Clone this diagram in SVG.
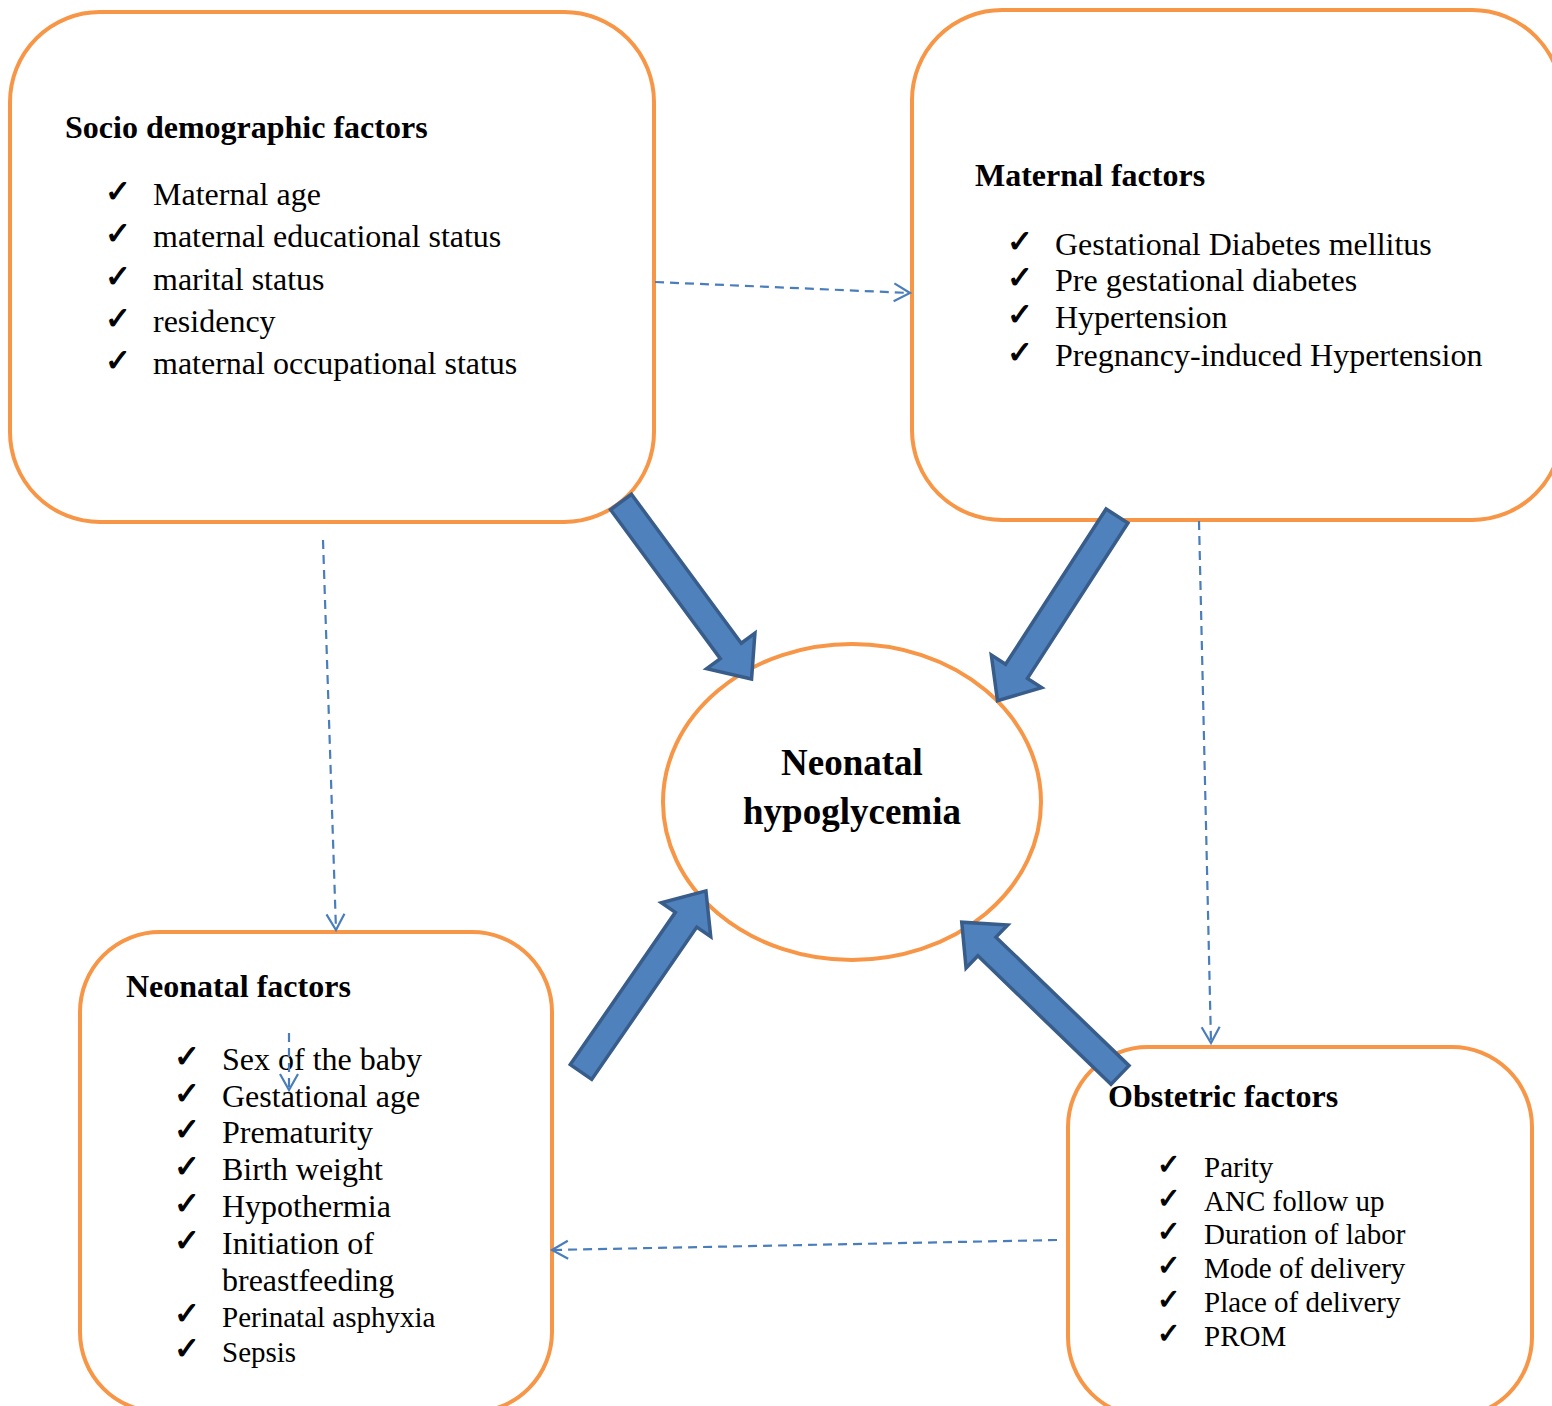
<svg xmlns="http://www.w3.org/2000/svg" width="1552" height="1406" viewBox="0 0 1552 1406">
<defs>
<style>
.box{fill:#fff;stroke:#F79646;stroke-width:4}
.t{font-family:"Liberation Serif","Times New Roman",serif;font-size:32px;fill:#000}
.b{font-weight:bold}
.s{font-size:29px}
.h{font-size:37px}
.ck{font-family:"DejaVu Sans",sans-serif;font-size:31px;fill:#000;stroke:#000;stroke-width:1}
.cs{font-size:28px}
.dash{fill:none;stroke:#4A7EBB;stroke-width:2.2;stroke-dasharray:9,6}
.big{fill:#4F81BD;stroke:#385D8A;stroke-width:3.5;stroke-linejoin:miter}
</style>
<marker id="v" markerUnits="userSpaceOnUse" markerWidth="24" markerHeight="24" viewBox="0 0 24 24" refX="20" refY="12" orient="auto">
<path d="M4,3 L20,12 L4,21" fill="none" stroke="#4A7EBB" stroke-width="2.2"/>
</marker>
<path id="ba" d="M0,-13 L185,-13 L185,-30 L220,0 L185,30 L185,13 L0,13 Z"/>
</defs>
<rect width="1552" height="1406" fill="#fff"/>
<g id="socio">
<rect class="box" x="10" y="12" width="644" height="510" rx="90"/>
<text class="t b" x="65" y="138">Socio demographic factors</text>
<g class="ck"><text x="105" y="202">✓</text><text x="105" y="244">✓</text><text x="105" y="287">✓</text><text x="105" y="329">✓</text><text x="105" y="371">✓</text></g>
<text class="t" x="153" y="205">Maternal age</text>
<text class="t" x="153" y="247">maternal educational status</text>
<text class="t" x="153" y="290">marital status</text>
<text class="t" x="153" y="332">residency</text>
<text class="t" x="153" y="374">maternal occupational status</text>
</g>
<g id="maternal">
<rect class="box" x="912" y="10" width="650" height="510" rx="90"/>
<text class="t b" x="975" y="186">Maternal factors</text>
<g class="ck"><text x="1007" y="252">✓</text><text x="1007" y="288">✓</text><text x="1007" y="325">✓</text><text x="1007" y="363">✓</text></g>
<text class="t" x="1055" y="255">Gestational Diabetes mellitus</text>
<text class="t" x="1055" y="291">Pre gestational diabetes</text>
<text class="t" x="1055" y="328">Hypertension</text>
<text class="t" x="1055" y="366">Pregnancy-induced Hypertension</text>
</g>
<g id="neonatal">
<rect class="box" x="80" y="932" width="472" height="480" rx="80"/>
<text class="t b" x="126" y="997">Neonatal factors</text>
<g class="ck"><text x="174" y="1067">✓</text><text x="174" y="1104">✓</text><text x="174" y="1140">✓</text><text x="174" y="1177">✓</text><text x="174" y="1214">✓</text><text x="174" y="1251">✓</text><text x="174" y="1324">✓</text><text x="174" y="1359">✓</text></g>
<text class="t" x="222" y="1070">Sex of the baby</text>
<text class="t" x="222" y="1107">Gestational age</text>
<text class="t" x="222" y="1143">Prematurity</text>
<text class="t" x="222" y="1180">Birth weight</text>
<text class="t" x="222" y="1217">Hypothermia</text>
<text class="t" x="222" y="1254">Initiation of</text>
<text class="t" x="222" y="1291">breastfeeding</text>
<text class="t s" x="222" y="1327">Perinatal asphyxia</text>
<text class="t s" x="222" y="1362">Sepsis</text>
</g>
<g id="obstetric">
<rect class="box" x="1068" y="1047" width="464" height="370" rx="80"/>
<text class="t b" x="1108" y="1107">Obstetric factors</text>
<g class="ck cs"><text x="1157" y="1174">✓</text><text x="1157" y="1208">✓</text><text x="1157" y="1241">✓</text><text x="1157" y="1275">✓</text><text x="1157" y="1309">✓</text><text x="1157" y="1343">✓</text></g>
<text class="t s" x="1204" y="1177">Parity</text>
<text class="t s" x="1204" y="1211">ANC follow up</text>
<text class="t s" x="1204" y="1244">Duration of labor</text>
<text class="t s" x="1204" y="1278">Mode of delivery</text>
<text class="t s" x="1204" y="1312">Place of delivery</text>
<text class="t s" x="1204" y="1346">PROM</text>
</g>
<g id="outcome">
<ellipse class="box" cx="852" cy="802" rx="189" ry="158"/>
<text class="t b h" x="852" y="775" text-anchor="middle">Neonatal</text>
<text class="t b h" x="852" y="824" text-anchor="middle">hypoglycemia</text>
</g>
<g id="connectors">
<use href="#ba" class="big" transform="translate(621,502) rotate(53.6)"/>
<use href="#ba" class="big" transform="translate(1117,516) rotate(122.9)"/>
<use href="#ba" class="big" transform="translate(581,1072) rotate(-55.4)"/>
<use href="#ba" class="big" transform="translate(1120,1075) rotate(-136)"/>
<path class="dash" d="M655,282 L910,293" marker-end="url(#v)"/>
<path class="dash" d="M323,540 L336,930" marker-end="url(#v)"/>
<path class="dash" d="M1199,521 L1211,1043" marker-end="url(#v)"/>
<path class="dash" d="M1057,1240 L552,1250" marker-end="url(#v)"/>
<path class="dash" d="M289,1033 L289,1090" marker-end="url(#v)"/>
</g>
</svg>
